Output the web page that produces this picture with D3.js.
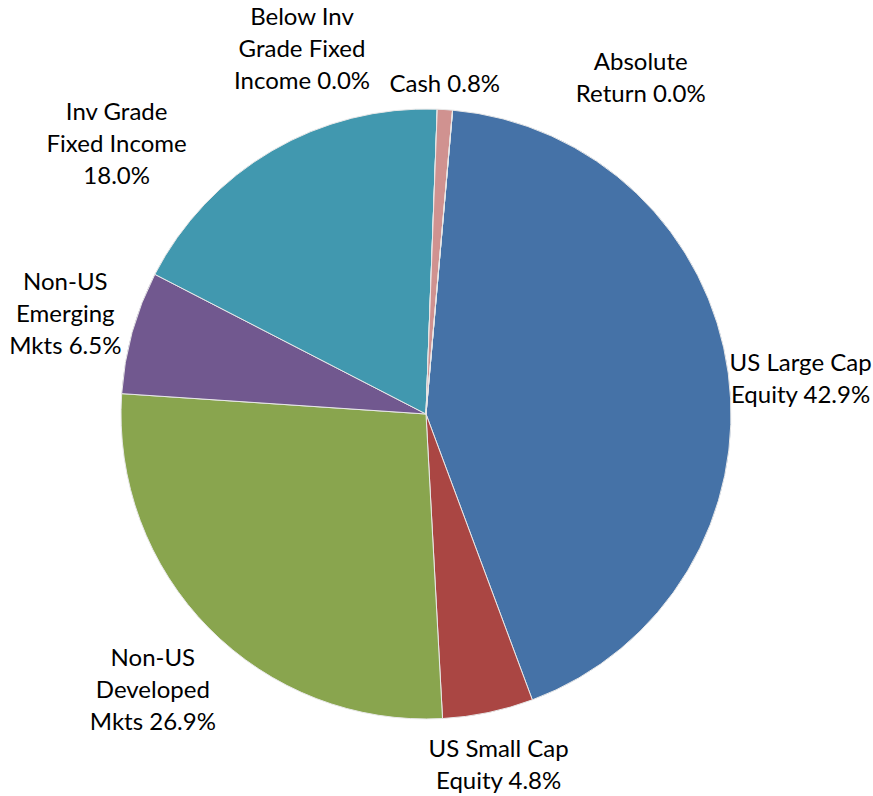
<!DOCTYPE html>
<html>
<head>
<meta charset="utf-8">
<script src="https://cdn.jsdelivr.net/npm/d3@7"></script>
<style>
  body { margin: 0; background: #fff; }
  text { font-family: Lato, "Open Sans", sans-serif; font-size: 24px; fill: #000; }
</style>
</head>
<body>
<div class="c-chart"></div>
<script>
// allocation data
var categories = ["US Large Cap Equity", "US Small Cap Equity", "Non-US Developed Mkts", "Non-US Emerging Mkts",
    "Inv Grade Fixed Income", "Below Inv Grade Fixed Income", "Cash", "Absolute Return"];
var values = [42.9, 4.8, 26.9, 6.5, 18.0, 0.0, 0.8, 0.0];
var labelLines = [
    ["US Large Cap", "Equity 42.9%"],
    ["US Small Cap", "Equity 4.8%"],
    ["Non-US", "Developed", "Mkts 26.9%"],
    ["Non-US", "Emerging", "Mkts 6.5%"],
    ["Inv Grade", "Fixed Income", "18.0%"],
    ["Below Inv", "Grade Fixed", "Income 0.0%"],
    ["Cash 0.8%"],
    ["Absolute", "Return 0.0%"]
];
var colors = ["#4572A7", "#AA4643", "#89A54E", "#71588F", "#4198AF", "#4198AF", "#D09290", "#4572A7"];

var width = 873, height = 796;
var cx = 426, cy = 414, radius = 305;
var lineHeight = 32;
var labelGap = 6;
// labels moved where Excel's best fit put them
var labelNudge = {
    0: [-4, 9],
    1: [-5, 15],
    2: [-7, 23],
    3: [-7, -6],
    4: [-117, 37],
    5: [-138, -9],
    6: [-4, -7],
    7: [182, 3]
};

var svg = d3.select(".c-chart").append("svg")
    .attr("width", width)
    .attr("height", height);

var g = svg.append("g")
    .attr("transform", "translate(" + cx + "," + cy + ")");

var startAngle = 5 * Math.PI / 180;
var pie = d3.pie()
    .sort(null)
    .startAngle(startAngle)
    .endAngle(startAngle + 2 * Math.PI)
    .value(function (d) { return d; });

var arc = d3.arc().innerRadius(0).outerRadius(radius);

var arcs = pie(values);

g.selectAll(".slice")
    .data(arcs)
    .enter()
    .append("path")
    .attr("class", "slice")
    .attr("d", arc)
    .attr("fill", function (d, i) { return colors[i]; })
    .attr("stroke", "#e8e8e8")
    .attr("stroke-width", 1);

var labels = g.selectAll(".label")
    .data(arcs)
    .enter()
    .append("text")
    .attr("class", "label")
    .attr("text-anchor", "middle");

labels.each(function (d, i) {
    var t = d3.select(this);
    labelLines[i].forEach(function (line, j) {
        t.append("tspan").attr("x", 0).attr("dy", j === 0 ? 0 : lineHeight).text(line);
    });
    var box = this.getBBox();
    var mid = (d.startAngle + d.endAngle) / 2;
    var r = radius + labelGap;
    var px = r * Math.sin(mid), py = -r * Math.cos(mid);
    var bx = px + Math.sin(mid) * box.width / 2;
    var by = py - Math.cos(mid) * box.height / 2;
    var nudge = labelNudge[i] || [0, 0];
    bx += nudge[0];
    by += nudge[1];
    // shift so the box centre sits at (bx, by)
    var offY = by - (box.y + box.height / 2);
    t.attr("transform", "translate(" + bx + "," + offY + ")");
});
</script>
</body>
</html>
